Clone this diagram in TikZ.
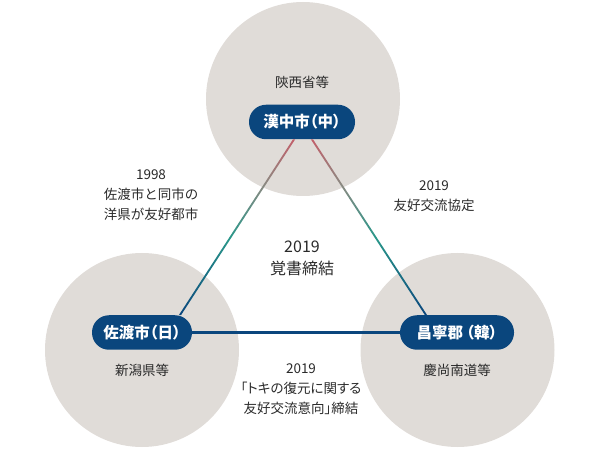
\documentclass[tikz,border=0pt]{standalone}
\usepackage{fontspec}
\setmainfont{Noto Sans CJK JP}
\newfontfamily\pillfont{Noto Sans CJK JP}[RawFeature=+palt]
\usetikzlibrary{calc}
\definecolor{regiongray}{HTML}{E0DCD8}
\definecolor{pillblue}{HTML}{0A467D}
\definecolor{textgray}{HTML}{2A2A2A}
\definecolor{linkred}{HTML}{C2606B}
\definecolor{linkgray}{HTML}{8A8A82}
\definecolor{linkteal}{HTML}{2A978A}
\pgfdeclareverticalshading{linkfade}{100bp}{color(0bp)=(pillblue); color(25bp)=(pillblue); color(47bp)=(linkteal); color(62bp)=(linkgray); color(75bp)=(linkred); color(100bp)=(linkred)}
\def\fadelink(#1)(#2){\shade[shading=linkfade] ($(#1)+(-1.1,0)$) -- ($(#1)+(1.1,0)$) -- ($(#2)+(1.1,0)$) -- ($(#2)+(-1.1,0)$) -- cycle;}

\begin{document}
\begin{tikzpicture}[x=1pt,y=-1pt,
	region/.style={circle,fill=regiongray,minimum size=194pt,inner sep=0pt},
	city/.style={fill=pillblue,text=white,rounded corners=17pt,minimum height=34.5pt,minimum width=#1,inner sep=0pt,font=\pillfont\bfseries\fontsize{15.5}{18}\selectfont},
	note/.style={text=textgray,align=center,font=\fontsize{13.5}{20}\selectfont}]
			%%%%% START %%%%%
			
			\useasboundingbox (0,0) rectangle (600,470);
			
			\node[region] (shaanxi) at (303,99) {};
			\node[region] (niigata) at (142,350) {};
			\node[region] (gyeongnam) at (457.5,350) {};
			
			\node[note] (shaanxiname) at (302,82) {陝西省等};
			\node[note] (niigataname) at (142,370) {新潟県等};
			\node[note] (gyeongnamname) at (457,370) {慶尚南道等};
			
			\node[city=106pt] (han) at (302,122) {漢中市（中）};
			\node[city=100pt] (sado) at (142,332.5) {佐渡市（日）};
			\node[city=114pt] (chang) at (457,332.5) {昌寧郡\hspace{.2em}（韓）};
			
			\coordinate (hanL) at ($(han.south)+(-8,0)$);
			\coordinate (hanR) at ($(han.south)+(10,0)$);
			\coordinate (sadoT) at ($(sado.north)+(38,0)$);
			\coordinate (changT) at ($(chang.north)+(-31,0)$);
			
			\fadelink(hanL)(sadoT)
			\fadelink(hanR)(changT)
			\draw[pillblue,line width=2.5pt] (sado.east) -- (chang.west);
			
			\node[note] (sister) at (151,195) {1998\\佐渡市と同市の\\洋県が友好都市};
			\node[note] (friendship) at (434,196) {2019\\友好交流協定};
			\node[note,font=\fontsize{16}{22}\selectfont] (memo) at (302,258) {2019\\覚書締結};
			\node[note,font=\pillfont\fontsize{13.5}{20}\selectfont] (toki) at (301,389.5) {2019\\「トキの復元に関する\\友好交流意向」締結};
			
			%%%%% END %%%%%
		\end{tikzpicture}
\end{document}
